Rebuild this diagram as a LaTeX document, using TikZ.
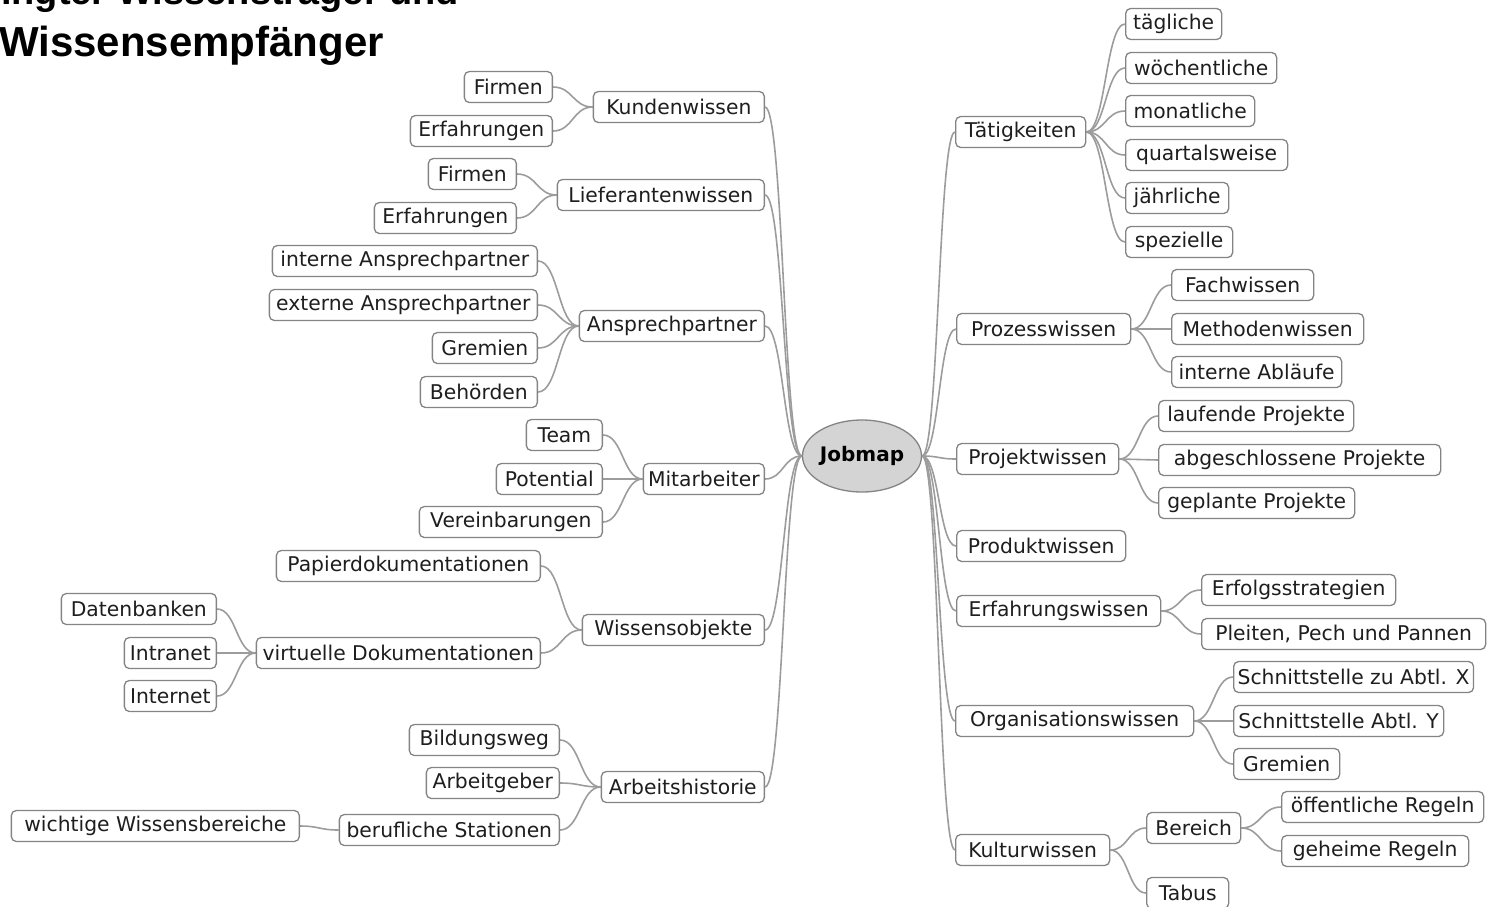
\documentclass[tikz,border=0pt]{standalone}
\usepackage{fontspec}
\setmainfont{DejaVu Sans}
\newfontfamily\titlefont{Liberation Sans}
\usetikzlibrary{calc,shapes.geometric,backgrounds}
\definecolor{boxgray}{HTML}{848484}
\definecolor{linegray}{HTML}{9C9C9C}
\definecolor{txt}{HTML}{1E1E1E}
\definecolor{jmfill}{HTML}{D4D4D4}
\tikzset{
  box/.style={draw=boxgray, line width=1.3pt, rounded corners=5pt, fill=white,
    minimum height=31pt, inner ysep=0pt, inner xsep=4pt, text=txt,
    font=\fontsize{20.3}{22}\selectfont},
  conn/.style={draw=linegray, line width=1.6pt},
  ttl/.style={inner sep=0pt, anchor=base west, text=black}
}
\newcommand\mmlink[2]{\draw[conn] let \p1=(#1), \p2=(#2) in
  (\p1) .. controls ({0.5*\x1+0.5*\x2},\y1) and ({0.5*\x1+0.5*\x2},\y2) .. (\p2);}
\begin{document}
\begin{tikzpicture}[x=1pt,y=-1pt]
\useasboundingbox (0,0) rectangle (1490,906);
\clip (0,0) rectangle (1490,906);
% title (cut off at the top, as in the reference)
\node[ttl, font=\titlefont\bfseries\fontsize{38}{40}\selectfont] (t1l) at (1,4.5) {ingter Wissensträger und};
\node[ttl, font=\titlefont\bfseries\fontsize{42}{46}\selectfont] (t2l) at (-1,56) {Wissensempfänger};
% centre
\node[ellipse, draw=boxgray, line width=1.3pt, fill=jmfill, minimum width=110pt, minimum height=72pt,
  inner sep=0pt, text=black, font=\bfseries\fontsize{20}{21}\selectfont] (jm) at (862,456) {Jobmap};
% left level 1
\node[box, anchor=east, minimum width=171pt] (kw) at (765,107) {Kundenwissen};
\node[box, anchor=east, minimum width=207pt] (lw) at (765,195) {Lieferantenwissen};
\node[box, anchor=east, minimum width=185pt] (ap) at (765,326) {Ansprechpartner};
\node[box, anchor=east, minimum width=121pt] (ma) at (765,479) {Mitarbeiter};
\node[box, anchor=east, minimum width=182pt] (wo) at (765,630) {Wissensobjekte};
\node[box, anchor=east, minimum width=163pt] (ah) at (765,787) {Arbeitshistorie};
% left level 2
\node[box, anchor=east, minimum width=88pt] (kf) at (553,87) {Firmen};
\node[box, anchor=east, minimum width=142pt] (ke) at (553,131) {Erfahrungen};
\node[box, anchor=east, minimum width=88pt] (lf) at (517,174) {Firmen};
\node[box, anchor=east, minimum width=142pt] (le) at (517,218) {Erfahrungen};
\node[box, anchor=east, minimum width=265pt] (ai) at (538,261) {interne Ansprechpartner};
\node[box, anchor=east, minimum width=268pt] (ae) at (538,305) {externe Ansprechpartner};
\node[box, anchor=east, minimum width=105pt] (ag) at (538,348) {Gremien};
\node[box, anchor=east, minimum width=117pt] (ab) at (538,392) {Behörden};
\node[box, anchor=east, minimum width=76pt] (mt) at (603,435) {Team};
\node[box, anchor=east, minimum width=106pt] (mp) at (603,479) {Potential};
\node[box, anchor=east, minimum width=183pt] (mv) at (603,522) {Vereinbarungen};
\node[box, anchor=east, minimum width=264pt] (wp) at (541,566) {Papierdokumentationen};
\node[box, anchor=east, minimum width=284pt] (wv) at (541,653) {virtuelle Dokumentationen};
\node[box, anchor=east, minimum width=150pt] (hb) at (560,740) {Bildungsweg};
\node[box, anchor=east, minimum width=133pt] (ha) at (560,783) {Arbeitgeber};
\node[box, anchor=east, minimum width=220pt] (hs) at (560,830) {berufliche Stationen};
% left level 3
\node[box, anchor=east, minimum width=155pt] (vd) at (217,609) {Datenbanken};
\node[box, anchor=east, minimum width=92pt] (vi) at (217,653) {Intranet};
\node[box, anchor=east, minimum width=92pt] (vn) at (217,696) {Internet};
\node[box, anchor=east, minimum width=288pt] (sw) at (300,826) {wichtige Wissensbereiche};
% right level 1
\node[box, anchor=west, minimum width=130pt] (ta) at (955,132) {Tätigkeiten};
\node[box, anchor=west, minimum width=174pt] (pw) at (956,329) {Prozesswissen};
\node[box, anchor=west, minimum width=162pt] (pj) at (956,459) {Projektwissen};
\node[box, anchor=west, minimum width=169pt] (pd) at (956,546) {Produktwissen};
\node[box, anchor=west, minimum width=204pt] (ew) at (956,611) {Erfahrungswissen};
\node[box, anchor=west, minimum width=238pt] (ow) at (955,721) {Organisationswissen};
\node[box, anchor=west, minimum width=154pt] (kuw) at (955,850) {Kulturwissen};
% right level 2
\node[box, anchor=west, minimum width=96pt] (r1) at (1125,24) {tägliche};
\node[box, anchor=west, minimum width=151pt] (r2) at (1125,68) {wöchentliche};
\node[box, anchor=west, minimum width=129pt] (r3) at (1125,111) {monatliche};
\node[box, anchor=west, minimum width=162pt] (r4) at (1125,155) {quartalsweise};
\node[box, anchor=west, minimum width=103pt] (r5) at (1125,198) {jährliche};
\node[box, anchor=west, minimum width=107pt] (r6) at (1125,242) {spezielle};
\node[box, anchor=west, minimum width=142pt] (p1) at (1171,285) {Fachwissen};
\node[box, anchor=west, minimum width=192pt] (p2) at (1171,329) {Methodenwissen};
\node[box, anchor=west, minimum width=170pt] (p3) at (1171,372) {interne Abläufe};
\node[box, anchor=west, minimum width=195pt] (j1) at (1158,416) {laufende Projekte};
\node[box, anchor=west, minimum width=282pt] (j2) at (1158,460) {abgeschlossene Projekte};
\node[box, anchor=west, minimum width=196pt] (j3) at (1158,503) {geplante Projekte};
\node[box, anchor=west, minimum width=194pt] (e1) at (1201,590) {Erfolgsstrategien};
\node[box, anchor=west, minimum width=284pt] (e2) at (1201,634) {Pleiten, Pech und Pannen};
\node[box, anchor=west, minimum width=239pt] (o1) at (1233,677) {Schnittstelle zu Abtl. X};
\node[box, anchor=west, minimum width=210pt] (o2) at (1233,721) {Schnittstelle Abtl. Y};
\node[box, anchor=west, minimum width=106pt] (o3) at (1233,764) {Gremien};
\node[box, anchor=west, minimum width=94pt] (k1) at (1146,828) {Bereich};
\node[box, anchor=west, minimum width=82pt] (k2) at (1146,893) {Tabus};
% right level 3
\node[box, anchor=west, minimum width=202pt] (b1) at (1281,807) {öffentliche Regeln};
\node[box, anchor=west, minimum width=187pt] (b2) at (1281,851) {geheime Regeln};
% connectors
\begin{pgfonlayer}{background}
\foreach \nd in {kw,lw,ap,ma,wo,ah}{\mmlink{\nd.east}{jm.west}}
\foreach \nd in {ta,pw,pj,pd,ew,ow,kuw}{\mmlink{jm.east}{\nd.west}}
\foreach \nd in {kf,ke}{\mmlink{\nd.east}{kw.west}}
\foreach \nd in {lf,le}{\mmlink{\nd.east}{lw.west}}
\foreach \nd in {ai,ae,ag,ab}{\mmlink{\nd.east}{ap.west}}
\foreach \nd in {mt,mp,mv}{\mmlink{\nd.east}{ma.west}}
\foreach \nd in {wp,wv}{\mmlink{\nd.east}{wo.west}}
\foreach \nd in {hb,ha,hs}{\mmlink{\nd.east}{ah.west}}
\foreach \nd in {vd,vi,vn}{\mmlink{\nd.east}{wv.west}}
\mmlink{sw.east}{hs.west}
\foreach \nd in {r1,r2,r3,r4,r5,r6}{\mmlink{ta.east}{\nd.west}}
\foreach \nd in {p1,p2,p3}{\mmlink{pw.east}{\nd.west}}
\foreach \nd in {j1,j2,j3}{\mmlink{pj.east}{\nd.west}}
\foreach \nd in {e1,e2}{\mmlink{ew.east}{\nd.west}}
\foreach \nd in {o1,o2,o3}{\mmlink{ow.east}{\nd.west}}
\foreach \nd in {k1,k2}{\mmlink{kuw.east}{\nd.west}}
\foreach \nd in {b1,b2}{\mmlink{k1.east}{\nd.west}}
\end{pgfonlayer}
\end{tikzpicture}
\end{document}
